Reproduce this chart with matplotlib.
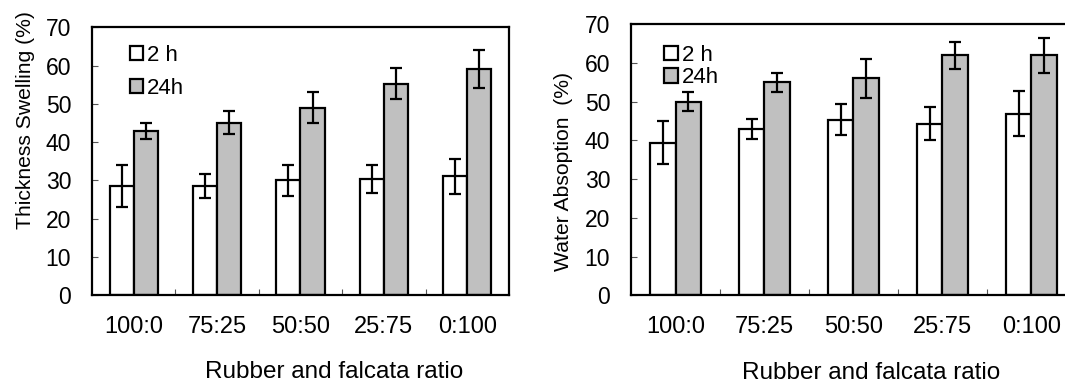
import numpy as np
import matplotlib.pyplot as plt
from matplotlib.ticker import FixedLocator

plt.rcParams['font.family'] = ['Liberation Sans', 'DejaVu Sans']

ratios = ['100:0', '75:25', '50:50', '25:75', '0:100']

# thickness swelling (%)
ts_2h = [28.5, 28.5, 30.0, 30.4, 31.1]
ts_2h_err = [5.5, 3.1, 4.1, 3.7, 4.6]
ts_24h = [42.9, 45.1, 49.0, 55.3, 59.1]
ts_24h_err = [2.0, 3.1, 4.1, 4.0, 5.0]

# water absorption (%)
wa_2h = [39.4, 43.0, 45.3, 44.3, 46.9]
wa_2h_err = [5.5, 2.6, 4.0, 4.3, 5.8]
wa_24h = [50.0, 55.0, 56.0, 62.0, 62.0]
wa_24h_err = [2.5, 2.5, 5.0, 3.5, 4.5]

fig = plt.figure(figsize=(10.65, 3.83), dpi=100)
ax1 = fig.add_axes([0.0864, 0.2298, 0.3915, 0.6984])
ax2 = fig.add_axes([0.5925, 0.229, 0.4178, 0.7076])

w = 0.29
x = np.arange(len(ratios))
ekw = dict(ecolor='black', elinewidth=1.6, capsize=4.3, capthick=1.6)


def panel(ax, a, ae, b, be, ylabel, ylab_pos, xlab_x, spacing, leg_anchor):
    ax.bar(x - w / 2, a, w, yerr=ae, color='white', edgecolor='black',
           linewidth=1.6, error_kw=ekw, label='2 h')
    ax.bar(x + w / 2, b, w, yerr=be, color='#c0c0c0', edgecolor='black',
           linewidth=1.6, error_kw=ekw, label='24h')
    ax.set_xlim(-0.5, 4.5)
    ax.set_ylim(0, 70)
    ax.set_yticks(range(0, 71, 10))
    ax.set_xticks(x)
    ax.set_xticklabels(ratios, fontsize=17)
    ax.xaxis.set_minor_locator(FixedLocator(np.arange(0.5, 4.0, 1.0)))
    ax.tick_params(axis='x', which='major', length=0, pad=15)
    ax.tick_params(axis='x', which='minor', direction='in', length=4,
                   width=0.8, color='#555555')
    ax.tick_params(axis='y', direction='in', length=4, width=0.8,
                   color='#555555', pad=15, labelsize=16.5)
    for s in ax.spines.values():
        s.set_linewidth(1.6)
    ax.set_ylabel(ylabel, fontsize=15.2)
    ax.yaxis.set_label_coords(*ylab_pos)
    ax.set_xlabel('Rubber and falcata ratio', fontsize=17.5)
    ax.xaxis.set_label_coords(xlab_x, -0.245)
    ax.legend(loc='upper left', bbox_to_anchor=leg_anchor, frameon=False,
              fontsize=16, handlelength=0.6, handleheight=0.6,
              handletextpad=0.2, labelspacing=spacing, borderpad=0,
              borderaxespad=0)


panel(ax1, ts_2h, ts_2h_err, ts_24h, ts_24h_err, 'Thickness Swelling (%)',
      (-0.137, 0.655), 0.58, 0.55, (0.09, 0.935))
panel(ax2, wa_2h, wa_2h_err, wa_24h, wa_24h_err, 'Water Absoption  (%)',
      (-0.13, 0.455), 0.54, 0.08, (0.075, 0.925))

fig.savefig('out.png', dpi=100)
